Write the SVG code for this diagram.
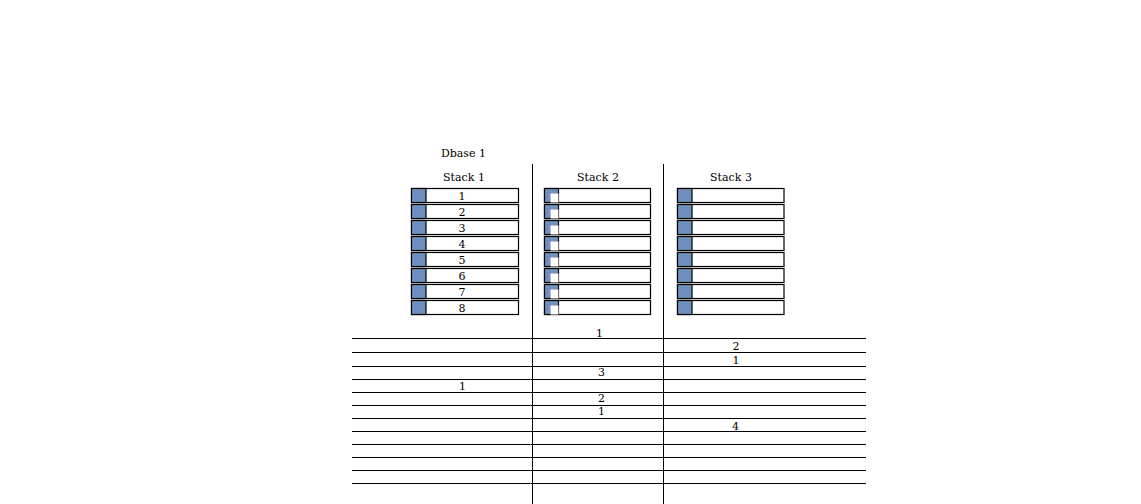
<svg xmlns="http://www.w3.org/2000/svg" width="1141" height="504" viewBox="0 0 1141 504">
<style>
text{font-family:"DejaVu Serif","Liberation Serif",serif;font-size:11px;fill:#000;text-anchor:middle}
.cell{fill:#fff;stroke:#000;stroke-width:1.2}
.blue{fill:#6f8fbf;stroke:#000;stroke-width:1.2}
.ln{stroke:#000;stroke-width:1;fill:none}
</style>
<rect width="1141" height="504" fill="#fff"/>
<defs>
<g id="row1"><rect class="cell" x="0" y="0" width="107" height="14"/><rect class="blue" x="0" y="0" width="14.5" height="14"/></g>
<g id="row2"><rect class="cell" x="0" y="0" width="106" height="14"/><rect class="blue" x="0" y="0" width="14" height="14"/><rect x="6" y="5" width="8" height="9" fill="#fff"/></g>
<g id="row3"><rect class="cell" x="0" y="0" width="106.5" height="14"/><rect class="blue" x="0" y="0" width="14.5" height="14"/></g>
</defs>
<g id="connectors">
<line class="ln" x1="532.5" y1="164" x2="532.5" y2="504"/>
<line class="ln" x1="663.5" y1="164" x2="663.5" y2="504"/>
<line class="ln" x1="352" y1="338.5" x2="866" y2="338.5"/>
<line class="ln" x1="352" y1="352.5" x2="866" y2="352.5"/>
<line class="ln" x1="352" y1="366.5" x2="866" y2="366.5"/>
<line class="ln" x1="352" y1="379.5" x2="866" y2="379.5"/>
<line class="ln" x1="352" y1="392.5" x2="866" y2="392.5"/>
<line class="ln" x1="352" y1="405.5" x2="866" y2="405.5"/>
<line class="ln" x1="352" y1="418.5" x2="866" y2="418.5"/>
<line class="ln" x1="352" y1="431.5" x2="866" y2="431.5"/>
<line class="ln" x1="352" y1="444.5" x2="866" y2="444.5"/>
<line class="ln" x1="352" y1="457.5" x2="866" y2="457.5"/>
<line class="ln" x1="352" y1="470.5" x2="866" y2="470.5"/>
<line class="ln" x1="352" y1="483.5" x2="866" y2="483.5"/>
</g>
<g id="title"><text x="463.5" y="157">Dbase 1</text></g>
<g id="stack1">
<text x="464" y="181">Stack 1</text>
<use href="#row1" x="411.5" y="188.5"/>
<use href="#row1" x="411.5" y="204.5"/>
<use href="#row1" x="411.5" y="220.5"/>
<use href="#row1" x="411.5" y="236.5"/>
<use href="#row1" x="411.5" y="252.5"/>
<use href="#row1" x="411.5" y="268.5"/>
<use href="#row1" x="411.5" y="284.5"/>
<use href="#row1" x="411.5" y="300.5"/>
<text x="462" y="200">1</text>
<text x="462" y="216">2</text>
<text x="462" y="232">3</text>
<text x="462" y="248">4</text>
<text x="462" y="264">5</text>
<text x="462" y="280">6</text>
<text x="462" y="296">7</text>
<text x="462" y="312">8</text>
</g>
<g id="stack2">
<text x="598" y="181">Stack 2</text>
<use href="#row2" x="544.5" y="188.5"/>
<use href="#row2" x="544.5" y="204.5"/>
<use href="#row2" x="544.5" y="220.5"/>
<use href="#row2" x="544.5" y="236.5"/>
<use href="#row2" x="544.5" y="252.5"/>
<use href="#row2" x="544.5" y="268.5"/>
<use href="#row2" x="544.5" y="284.5"/>
<use href="#row2" x="544.5" y="300.5"/>
</g>
<g id="stack3">
<text x="731" y="181">Stack 3</text>
<use href="#row3" x="677.5" y="188.5"/>
<use href="#row3" x="677.5" y="204.5"/>
<use href="#row3" x="677.5" y="220.5"/>
<use href="#row3" x="677.5" y="236.5"/>
<use href="#row3" x="677.5" y="252.5"/>
<use href="#row3" x="677.5" y="268.5"/>
<use href="#row3" x="677.5" y="284.5"/>
<use href="#row3" x="677.5" y="300.5"/>
</g>
<g id="table-labels">
<text x="599.5" y="336.5">1</text>
<text x="736" y="349.5">2</text>
<text x="736" y="364">1</text>
<text x="601.5" y="376">3</text>
<text x="462.5" y="389.5">1</text>
<text x="601.5" y="402">2</text>
<text x="601.5" y="415">1</text>
<text x="735.5" y="429.5">4</text>
</g>
</svg>
